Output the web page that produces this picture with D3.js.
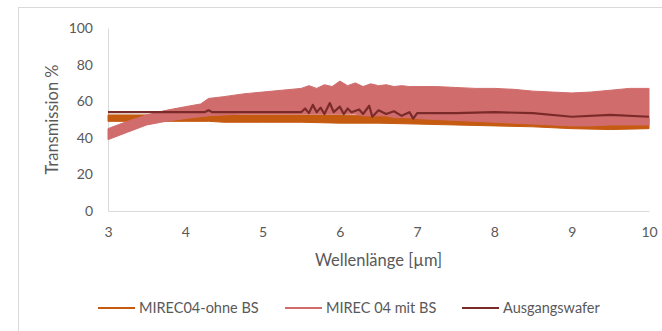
<!DOCTYPE html>
<html>
<head>
<meta charset="utf-8">
<script src="https://cdn.jsdelivr.net/npm/d3@7"></script>
<style>
  body { margin: 0; background: #fff; }
  text { font-family: Lato, "Open Sans", sans-serif; fill: #595959; }
</style>
</head>
<body>
<div id="chart"></div>
<script>
// MIREC 04 mit BS: upper and lower envelope of the fringes
var pinkX  = [3.0, 3.25, 3.5, 3.75, 4.0, 4.2, 4.3, 4.5, 4.75, 5.0, 5.25, 5.5, 5.6, 5.7, 5.8, 5.9, 6.0, 6.1, 6.2, 6.3, 6.4, 6.5, 6.6, 6.7, 6.8, 6.9, 7.0, 7.25, 7.5, 7.75, 8.0, 8.25, 8.5, 8.75, 9.0, 9.25, 9.5, 9.75, 10.0];
var pinkHi = [45, 49, 52.5, 55, 57, 58.5, 61.5, 62.5, 64, 65, 66, 67, 68.5, 67, 69, 68, 71, 68.5, 70, 68, 69.5, 68.5, 69, 68, 68.5, 68, 68, 68, 67.5, 67, 67, 66.5, 65.5, 65, 64.5, 65, 66, 67, 67];
var pinkLo = [39, 43, 47, 49, 50.5, 51.5, 52, 52.5, 53, 53, 53, 53, 53, 53, 53, 53, 53, 53, 53, 52, 52, 52, 52, 51, 51, 51, 50.5, 50, 49.5, 49, 48.5, 48, 47.5, 47, 46.5, 46.5, 47, 47, 47];

// MIREC04-ohne BS
var orangeX  = [3, 3.5, 4, 4.3, 4.5, 5, 5.5, 6, 6.5, 7, 7.5, 8, 8.5, 9, 9.5, 10];
var orangeHi = [52.5, 52.5, 52.5, 53, 52.5, 52.5, 52.5, 52.5, 52, 52, 51.5, 51, 51, 51, 51, 51];
var orangeLo = [49, 49, 49, 49, 48.5, 48.5, 48.5, 48, 48, 47.5, 47, 46.5, 46, 45, 44.5, 45];

// Ausgangswafer
var darkX = [3.0, 4.25, 4.3, 4.35, 5.5, 5.55, 5.6, 5.65, 5.7, 5.75, 5.8, 5.87, 5.92, 6.0, 6.05, 6.1, 6.15, 6.25, 6.3, 6.38, 6.42, 6.5, 6.6, 6.7, 6.8, 6.9, 6.95, 7.0, 7.5, 8.0, 8.5, 9.0, 9.5, 10.0];
var darkY = [54, 54, 55, 54, 54, 56, 53.5, 58, 54, 56.5, 53, 59, 54, 57, 53, 56, 54, 55.5, 53, 57.5, 51.5, 55, 53, 54.5, 52, 54, 50.5, 53.5, 53.5, 54, 53.5, 51.5, 52.5, 51.5];

var xTicks = [3, 4, 5, 6, 7, 8, 9, 10];
var yTicks = [0, 20, 40, 60, 80, 100];
var seriesNames = ["MIREC04-ohne BS", "MIREC 04 mit BS", "Ausgangswafer"];
var seriesColors = ["#c55a11", "#d06c6c", "#7b2a2a"];

var width = 662, height = 331;
var svg = d3.select("#chart").append("svg")
	.attr("width", width)
	.attr("height", height);

// chart frame
svg.append("rect")
	.attr("x", 18.5).attr("y", 7.5)
	.attr("width", 660).attr("height", 340)
	.attr("fill", "none")
	.attr("stroke", "#d9d9d9");

var x = d3.scaleLinear().domain([3, 10]).range([108, 649]);
var y = d3.scaleLinear().domain([0, 100]).range([211, 28]);

// axes
var xAxis = svg.append("g")
	.attr("transform", "translate(0," + y(0) + ")")
	.call(d3.axisBottom(x).tickValues(xTicks).tickFormat(d3.format("d")).tickSize(0).tickPadding(16));
var yAxis = svg.append("g")
	.attr("transform", "translate(" + x(3) + ",0)")
	.call(d3.axisLeft(y).tickValues(yTicks).tickSize(0).tickPadding(15));
[xAxis, yAxis].forEach(function(a){
	a.select(".domain").attr("stroke", "#d9d9d9");
	a.selectAll("text").style("font-size", "14px").attr("fill", "#595959");
});

// series
var orangeData = orangeX.map(function(d, i){ return [d, orangeLo[i], orangeHi[i]]; });
var pinkData = pinkX.map(function(d, i){ return [d, pinkLo[i], pinkHi[i]]; });
var darkData = darkX.map(function(d, i){ return [d, darkY[i]]; });

var band = d3.area()
	.x(function(d){ return x(d[0]); })
	.y0(function(d){ return y(d[1]); })
	.y1(function(d){ return y(d[2]); });

svg.append("path").datum(orangeData)
	.attr("d", band)
	.attr("fill", seriesColors[0])
	.attr("stroke", seriesColors[0]).attr("stroke-width", 1);

svg.append("path").datum(pinkData)
	.attr("d", band)
	.attr("fill", seriesColors[1])
	.attr("stroke", seriesColors[1]).attr("stroke-width", 1);

svg.append("path").datum(darkData)
	.attr("d", d3.line()
		.x(function(d){ return x(d[0]); })
		.y(function(d){ return y(d[1]); }))
	.attr("fill", "none")
	.attr("stroke", seriesColors[2])
	.attr("stroke-width", 2.2)
	.attr("stroke-linejoin", "round");

// axis titles
svg.append("text")
	.attr("x", (x(3) + x(10)) / 2).attr("y", 266)
	.attr("text-anchor", "middle")
	.style("font-size", "16.5px")
	.text("Wellenlänge [µm]");
svg.append("text")
	.attr("transform", "translate(58," + (y(0) + y(100)) / 2 + ") rotate(-90)")
	.attr("text-anchor", "middle")
	.style("font-size", "16.5px")
	.text("Transmission %");

// legend
var legendX = [98, 285, 462];
var legend = svg.selectAll(".legend").data(seriesNames).enter().append("g")
	.attr("transform", function(d, i){ return "translate(" + legendX[i] + ",308)"; });
legend.append("line")
	.attr("x1", 0).attr("x2", 37)
	.attr("stroke", function(d, i){ return seriesColors[i]; })
	.attr("stroke-width", 2.2);
legend.append("text")
	.attr("x", 41).attr("dy", "0.35em")
	.style("font-size", "14.5px")
	.text(function(d){ return d; });
</script>
</body>
</html>
